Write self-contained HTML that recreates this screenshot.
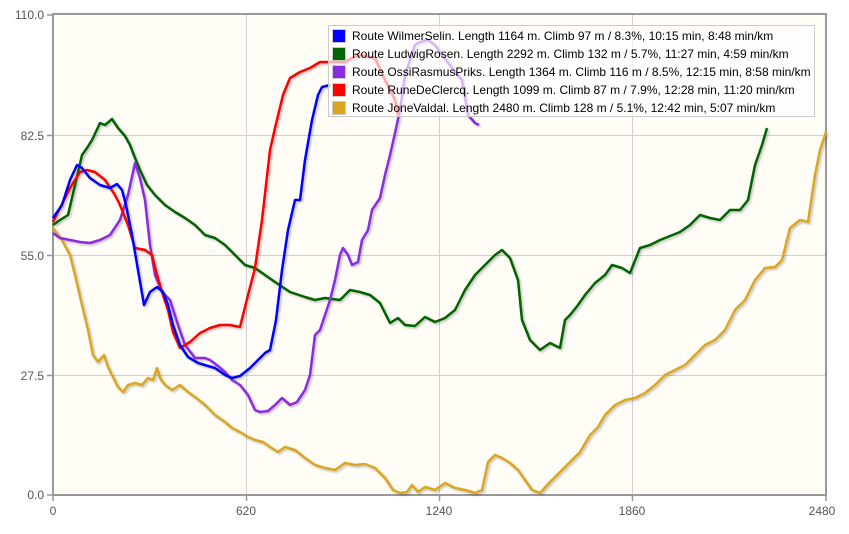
<!DOCTYPE html>
<html><head><meta charset="utf-8"><style>
body{margin:0;background:#fff;}
svg{display:block;font-family:"Liberation Sans",sans-serif;}
</style></head><body>
<svg width="849" height="534" viewBox="0 0 849 534">
<defs><filter id="sh" x="-5%" y="-5%" width="110%" height="110%"><feDropShadow dx="1.5" dy="1.5" stdDeviation="1" flood-color="#000" flood-opacity="0.25"/></filter></defs>
<rect x="53" y="14" width="773" height="481" fill="#fffdf6"/>
<g stroke="#d0d0d0" stroke-width="1">
<line x1="53" y1="135.5" x2="826" y2="135.5"/><line x1="53" y1="255.5" x2="826" y2="255.5"/><line x1="53" y1="375.5" x2="826" y2="375.5"/>
<line x1="246.5" y1="14" x2="246.5" y2="495"/><line x1="439.5" y1="14" x2="439.5" y2="495"/><line x1="632.5" y1="14" x2="632.5" y2="495"/>
</g>
<rect x="53" y="14" width="773" height="481" fill="none" stroke="#999" stroke-width="2"/>
<g stroke="#999" stroke-width="1.5">
<line x1="47" y1="15" x2="53" y2="15"/><line x1="47" y1="135.5" x2="53" y2="135.5"/><line x1="47" y1="255.5" x2="53" y2="255.5"/><line x1="47" y1="375.5" x2="53" y2="375.5"/><line x1="47" y1="495" x2="53" y2="495"/>
<line x1="53" y1="495" x2="53" y2="501"/><line x1="246.5" y1="495" x2="246.5" y2="501"/><line x1="439.5" y1="495" x2="439.5" y2="501"/><line x1="632.5" y1="495" x2="632.5" y2="501"/><line x1="826" y1="495" x2="826" y2="501"/>
</g>
<g font-size="12" fill="#555" text-anchor="end">
<text x="44" y="19">110.0</text><text x="44" y="140">82.5</text><text x="44" y="260">55.0</text><text x="44" y="380">27.5</text><text x="44" y="499">0.0</text>
</g>
<g font-size="12" fill="#555" text-anchor="middle">
<text x="53" y="515">0</text><text x="246" y="515">620</text><text x="439" y="515">1240</text><text x="632" y="515">1860</text><text x="822" y="515">2480</text>
</g>
<g fill="none" stroke-width="2.5" stroke-linejoin="round" filter="url(#sh)">
<polyline stroke="#daa520" points="53,228 62,240 70,255 75,275 82,305 88,330 93,355 98,362 104,355 108,367 112,375 118,387 123,392 128,385 135,383 142,385 148,378 153,380 157,368 160,378 165,385 172,390 180,385 188,392 195,397 205,405 215,415 225,422 232,428 240,432 248,437 255,440 263,442 270,447 278,452 285,447 295,450 305,458 315,465 325,468 335,470 345,463 355,465 365,464 375,468 385,478 393,490 400,493 407,492 412,485 418,492 425,487 435,490 445,483 455,488 465,490 475,493 482,490 488,462 495,455 502,458 510,463 518,470 525,480 532,490 540,493 550,482 560,472 570,462 580,452 590,435 598,427 605,415 615,405 625,400 635,398 645,393 655,385 665,375 675,370 685,365 695,355 705,345 715,340 725,330 735,310 745,300 755,280 765,268 775,267 782,260 790,228 800,220 808,222 815,175 820,150 826,132"/>
<polyline stroke="#006400" points="53,225 60,220 68,215 75,185 82,155 87,148 92,140 100,123 105,125 112,119 118,128 125,136 130,145 135,158 140,170 147,185 155,195 165,205 175,212 185,218 195,225 205,235 215,238 225,245 235,255 245,265 255,268 265,275 275,282 290,292 305,297 315,300 325,298 340,300 350,290 360,292 370,295 380,303 390,323 398,318 405,325 415,326 425,317 435,322 445,318 455,310 465,290 475,275 485,265 495,255 502,250 510,258 518,280 522,320 530,340 540,350 550,343 560,348 565,320 570,315 578,305 585,295 595,283 605,275 612,265 622,268 630,273 640,248 650,245 660,240 670,236 680,232 690,225 700,215 710,218 720,220 730,210 740,210 748,200 755,165 762,145 767,128"/>
<polyline stroke="#8a2be2" points="53,233 60,238 70,240 80,242 90,243 100,240 110,235 120,220 128,195 135,163 140,178 145,200 150,245 155,275 162,292 170,300 178,325 185,345 195,358 205,358 210,360 218,366 225,372 232,380 240,385 248,395 255,410 260,412 268,411 275,405 282,398 290,405 297,402 305,390 310,375 315,335 320,330 325,315 330,300 335,280 340,255 343,248 348,255 352,265 358,262 362,240 368,230 372,210 380,198 385,175 390,155 395,133 400,110 405,75 410,60 415,45 420,42 428,40 435,45 442,55 450,65 455,72 462,80 468,115 475,123 479,125"/>
<polyline stroke="#ff0000" points="53,222 60,208 70,188 80,172 87,170 95,172 105,180 115,195 120,205 128,225 135,248 145,250 152,255 157,275 163,295 168,310 173,332 180,348 190,342 200,333 210,328 220,325 230,325 240,327 248,295 255,268 262,220 270,150 275,128 283,95 290,78 300,72 310,68 320,62 335,62 345,62 352,58 360,55 375,58 385,80 395,100 398,115"/>
<polyline stroke="#0000ff" points="53,218 62,205 70,180 77,165 82,168 90,178 100,185 110,188 117,184 122,190 126,205 132,235 138,270 144,305 150,292 157,287 163,292 168,305 173,325 180,345 188,357 198,363 208,366 215,368 225,375 232,378 240,376 250,368 260,358 265,353 270,350 276,320 282,270 288,230 295,200 300,200 305,160 312,120 318,95 322,87 330,85"/>
</g>
<rect x="328.5" y="25.5" width="486" height="91" fill="#fff" fill-opacity="0.65" stroke="#ccc"/>
<g stroke="#ccc" stroke-width="1">
<rect x="332.5" y="29.5" width="13" height="13" fill="#0000ff"/>
<rect x="332.5" y="47.5" width="13" height="13" fill="#006400"/>
<rect x="332.5" y="65.5" width="13" height="13" fill="#8a2be2"/>
<rect x="332.5" y="83.5" width="13" height="13" fill="#ff0000"/>
<rect x="332.5" y="101.5" width="13" height="13" fill="#daa520"/>
</g>
<g font-size="12" fill="#000">
<text x="352" y="40">Route WilmerSelin. Length 1164 m. Climb 97 m / 8.3%, 10:15 min, 8:48 min/km</text>
<text x="352" y="58">Route LudwigRosen. Length 2292 m. Climb 132 m / 5.7%, 11:27 min, 4:59 min/km</text>
<text x="352" y="76">Route OssiRasmusPriks. Length 1364 m. Climb 116 m / 8.5%, 12:15 min, 8:58 min/km</text>
<text x="352" y="94">Route RuneDeClercq. Length 1099 m. Climb 87 m / 7.9%, 12:28 min, 11:20 min/km</text>
<text x="352" y="112">Route JoneValdal. Length 2480 m. Climb 128 m / 5.1%, 12:42 min, 5:07 min/km</text>
</g>
</svg>
</body></html>
